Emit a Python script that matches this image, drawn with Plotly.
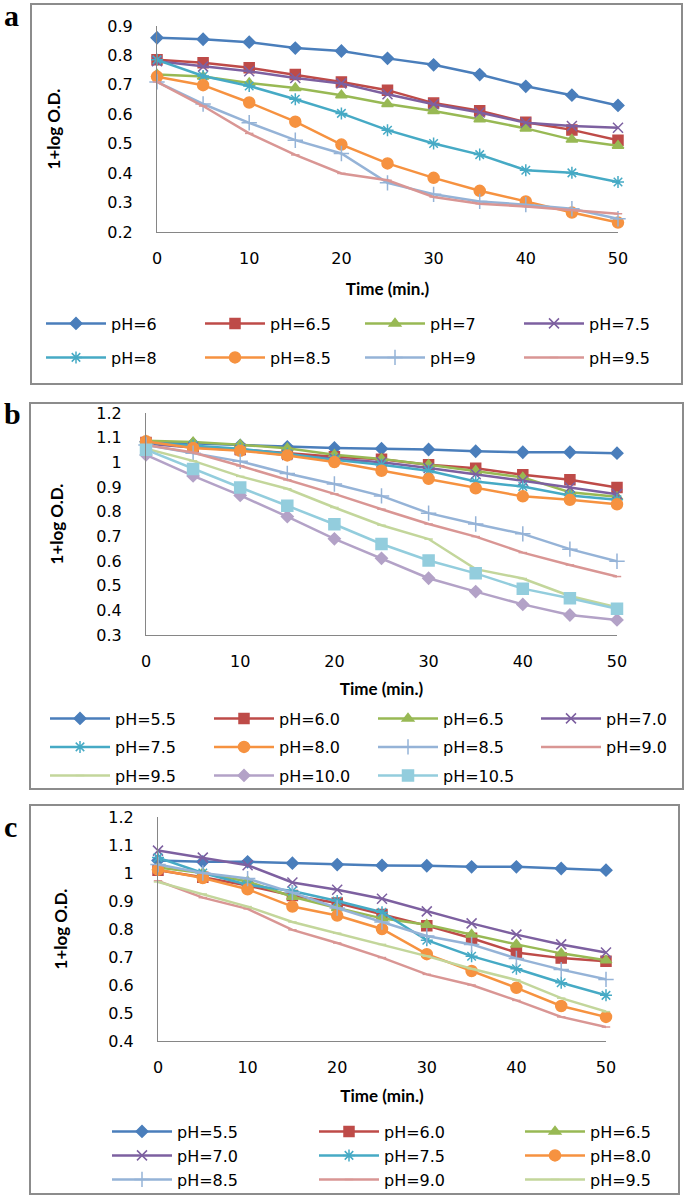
import plotly.graph_objs as go

W, H = 685, 1198

time = [0, 5, 10, 15, 20, 25, 30, 35, 40, 45, 50]

# panel a
a_names = ['pH=6', 'pH=6.5', 'pH=7', 'pH=7.5', 'pH=8', 'pH=8.5', 'pH=9', 'pH=9.5']
a_ph6 = [0.86, 0.855, 0.845, 0.825, 0.815, 0.79, 0.768, 0.735, 0.695, 0.665, 0.63]
a_ph65 = [0.785, 0.775, 0.758, 0.735, 0.71, 0.682, 0.638, 0.612, 0.573, 0.547, 0.512]
a_ph7 = [0.735, 0.728, 0.706, 0.689, 0.665, 0.635, 0.611, 0.583, 0.552, 0.514, 0.493]
a_ph75 = [0.78, 0.762, 0.746, 0.723, 0.705, 0.668, 0.634, 0.606, 0.571, 0.56, 0.554]
a_ph8 = [0.785, 0.73, 0.696, 0.651, 0.603, 0.546, 0.501, 0.463, 0.41, 0.401, 0.37]
a_ph85 = [0.728, 0.699, 0.64, 0.575, 0.497, 0.433, 0.384, 0.34, 0.304, 0.266, 0.232]
a_ph9 = [0.71, 0.635, 0.571, 0.512, 0.467, 0.367, 0.328, 0.304, 0.293, 0.279, 0.245]
a_ph95 = [0.71, 0.628, 0.535, 0.462, 0.399, 0.376, 0.319, 0.296, 0.287, 0.274, 0.262]
a_yticks = [0.2, 0.3, 0.4, 0.5, 0.6, 0.7, 0.8, 0.9]
a_yticktext = ['0.2', '0.3', '0.4', '0.5', '0.6', '0.7', '0.8', '0.9']

# panel b
b_names = ['pH=5.5', 'pH=6.0', 'pH=6.5', 'pH=7.0', 'pH=7.5', 'pH=8.0',
           'pH=8.5', 'pH=9.0', 'pH=9.5', 'pH=10.0', 'pH=10.5']
b_ph55 = [1.083, 1.076, 1.069, 1.063, 1.058, 1.055, 1.052, 1.045, 1.041, 1.041, 1.037]
b_ph60 = [1.08, 1.062, 1.052, 1.037, 1.023, 1.012, 0.99, 0.976, 0.95, 0.929, 0.898]
b_ph65 = [1.088, 1.082, 1.071, 1.057, 1.031, 1.014, 0.99, 0.966, 0.939, 0.879, 0.86]
b_ph70 = [1.075, 1.06, 1.05, 1.03, 1.015, 1.0, 0.977, 0.952, 0.925, 0.898, 0.871]
b_ph75 = [1.08, 1.068, 1.055, 1.035, 1.01, 0.99, 0.966, 0.922, 0.902, 0.866, 0.848]
b_ph80 = [1.085, 1.058, 1.047, 1.028, 1.001, 0.966, 0.933, 0.895, 0.862, 0.848, 0.83]
b_ph85 = [1.07, 1.037, 1.004, 0.955, 0.912, 0.864, 0.794, 0.75, 0.71, 0.648, 0.599]
b_ph90 = [1.07, 1.04, 0.986, 0.929, 0.872, 0.81, 0.75, 0.699, 0.634, 0.584, 0.537]
b_ph95 = [1.055, 1.006, 0.943, 0.893, 0.817, 0.745, 0.689, 0.567, 0.529, 0.458, 0.412]
b_ph100 = [1.03, 0.945, 0.866, 0.78, 0.69, 0.611, 0.53, 0.476, 0.424, 0.381, 0.361]
b_ph105 = [1.051, 0.973, 0.898, 0.824, 0.749, 0.669, 0.602, 0.55, 0.488, 0.449, 0.406]
b_yticks = [0.3, 0.4, 0.5, 0.6, 0.7, 0.8, 0.9, 1.0, 1.1, 1.2]
b_yticktext = ['0.3', '0.4', '0.5', '0.6', '0.7', '0.8', '0.9', '1', '1.1', '1.2']

# panel c
c_names = ['pH=5.5', 'pH=6.0', 'pH=6.5', 'pH=7.0', 'pH=7.5', 'pH=8.0',
           'pH=8.5', 'pH=9.0', 'pH=9.5']
c_ph55 = [1.045, 1.04, 1.04, 1.035, 1.03, 1.027, 1.026, 1.022, 1.022, 1.016, 1.01]
c_ph60 = [1.01, 0.985, 0.955, 0.92, 0.893, 0.852, 0.812, 0.767, 0.716, 0.696, 0.685]
c_ph65 = [1.02, 1.0, 0.97, 0.915, 0.875, 0.838, 0.815, 0.78, 0.745, 0.713, 0.688]
c_ph70 = [1.08, 1.055, 1.028, 0.966, 0.94, 0.908, 0.863, 0.82, 0.78, 0.745, 0.716]
c_ph75 = [1.055, 1.0, 0.958, 0.936, 0.9, 0.86, 0.76, 0.703, 0.658, 0.608, 0.563]
c_ph80 = [1.012, 0.982, 0.942, 0.88, 0.848, 0.8, 0.71, 0.65, 0.59, 0.525, 0.486]
c_ph85 = [1.03, 1.0, 0.98, 0.93, 0.875, 0.825, 0.775, 0.745, 0.695, 0.655, 0.62]
c_ph90 = [0.972, 0.912, 0.872, 0.797, 0.75, 0.698, 0.638, 0.6, 0.545, 0.486, 0.45]
c_ph95 = [0.968, 0.925, 0.88, 0.825, 0.785, 0.745, 0.703, 0.658, 0.618, 0.553, 0.505]
c_yticks = [0.4, 0.5, 0.6, 0.7, 0.8, 0.9, 1.0, 1.1, 1.2]
c_yticktext = ['0.4', '0.5', '0.6', '0.7', '0.8', '0.9', '1', '1.1', '1.2']

xticks = [0, 10, 20, 30, 40, 50]

# excel 2007 style series looks: line colour, marker symbol, marker size
styles = [
    ('#4A7EBB', 'diamond', 9),
    ('#BE4B48', 'square', 10),
    ('#98B954', 'triangle-up', 10),
    ('#7D60A0', 'x-thin-open', 10),
    ('#46AAC5', 'asterisk-open', 10),
    ('#F69240', 'circle', 11),
    ('#95B3D7', 'cross-thin-open', 11),
    ('#D99694', 'line-ew-open', 6),
    ('#C3D69B', 'line-ew-open', 6),
    ('#B3A2C7', 'diamond', 9),
    ('#93CDDD', 'square', 11),
]

TICKFONT = dict(family='DejaVu Sans', size=16, color='#000000')
TITLEFONT = dict(family='Lato', size=17, color='#000000')
LEGFONT = dict(family='DejaVu Sans', size=16, color='#000000')
ITEM_H = 16 * 1.3 + 3  # height plotly gives one legend entry at this font size


def px_x(p):
    return p / W


def px_y(p):
    return 1 - p / H


def add_series(fig, names, series, ax, prefix, ncol):
    # one legend per legend column, so the columns sit where excel put them
    for i, (name, vals) in enumerate(zip(names, series)):
        color, sym, size = styles[i]
        n = prefix + i % ncol
        fig.add_trace(go.Scatter(
            x=time, y=vals, name=name, mode='lines+markers',
            line=dict(color=color, width=2.5),
            marker=dict(symbol=sym, size=size, color=color,
                        line=dict(color=color, width=1.5)),
            cliponaxis=False,
            xaxis='x' + ax, yaxis='y' + ax,
            legend='legend' if n == 1 else 'legend%d' % n,
            legendgroup='%s_%s' % (ax, name),
        ))


def axes(x0, x1, y0, y1, yrange, yticks, yticktext, n, xstand, ystand):
    xa = dict(domain=[px_x(x0), px_x(x1)], range=[0, 50], anchor='y' + n,
              tickvals=xticks, showline=True, linecolor='#868686', linewidth=1,
              showgrid=False, zeroline=False, ticks='', tickfont=TICKFONT,
              ticklabelstandoff=12,
              title=dict(text='<b>Time (min.)</b>', font=TITLEFONT, standoff=xstand))
    ya = dict(domain=[px_y(y1), px_y(y0)], range=yrange, anchor='x' + n,
              tickvals=yticks, ticktext=yticktext, showline=True,
              linecolor='#868686', linewidth=1, showgrid=False, zeroline=False,
              ticks='', tickfont=TICKFONT, ticklabelstandoff=20,
              title=dict(text='<b>1+log O.D.</b>', font=TITLEFONT, standoff=ystand))
    return xa, ya


def legend_col(x, row1, pitch):
    return dict(orientation='v', x=px_x(x - 3), xanchor='left', y=px_y(row1 - 17.5),
                yanchor='top', itemwidth=60, tracegroupgap=max(pitch - ITEM_H, 0),
                traceorder='grouped', font=LEGFONT, bgcolor='rgba(0,0,0,0)')


fig = go.Figure()
add_series(fig, a_names, [a_ph6, a_ph65, a_ph7, a_ph75, a_ph8, a_ph85, a_ph9, a_ph95],
           '', 1, 4)
add_series(fig, b_names, [b_ph55, b_ph60, b_ph65, b_ph70, b_ph75, b_ph80, b_ph85,
                          b_ph90, b_ph95, b_ph100, b_ph105],
           '2', 5, 4)
add_series(fig, c_names, [c_ph55, c_ph60, c_ph65, c_ph70, c_ph75, c_ph80, c_ph85,
                          c_ph90, c_ph95],
           '3', 9, 3)

xa1, ya1 = axes(157, 618, 26, 232, [0.2, 0.9], a_yticks, a_yticktext, '', 15, 42)
xa2, ya2 = axes(146, 617, 413, 635, [0.3, 1.2], b_yticks, b_yticktext, '2', 12, 28)
xa3, ya3 = axes(158, 606, 817, 1041, [0.4, 1.2], c_yticks, c_yticktext, '3', 13, 36)

legends = {}
cols = [([44, 203, 363, 522], 324, 34), ([48, 212, 376, 539], 719, 28.5),
        ([110, 317, 523], 1132, 24)]
k = 1
for xs, row1, pitch in cols:
    for x in xs:
        legends['legend' if k == 1 else 'legend%d' % k] = legend_col(x, row1, pitch)
        k += 1

boxes = [(31, 4, 682, 384), (30, 403, 683, 789), (30, 805, 679, 1194)]
shapes = [dict(type='rect', xref='paper', yref='paper',
               x0=px_x(b[0]), x1=px_x(b[2]), y0=px_y(b[3]), y1=px_y(b[1]),
               line=dict(color='#8C8C8C', width=2)) for b in boxes]

letters = [('a', 2, 16), ('b', 2, 414), ('c', 2, 826)]
annotations = [dict(text='<b>%s</b>' % t, x=px_x(x), y=px_y(y), xref='paper',
                    yref='paper', xanchor='left', yanchor='middle', showarrow=False,
                    font=dict(family='Liberation Serif', size=30, color='#000000'))
               for t, x, y in letters]

fig.update_layout(
    width=W, height=H, margin=dict(l=0, r=0, t=0, b=0, autoexpand=False),
    paper_bgcolor='white', plot_bgcolor='white', showlegend=True,
    xaxis=xa1, yaxis=ya1, xaxis2=xa2, yaxis2=ya2, xaxis3=xa3, yaxis3=ya3,
    shapes=shapes, annotations=annotations, **legends
)

# drop the browser's default 8px body margin so the chart fills the window
fig.write_html("out.html", config={'displayModeBar': False},
               post_script="document.body.style.margin='0px';")
